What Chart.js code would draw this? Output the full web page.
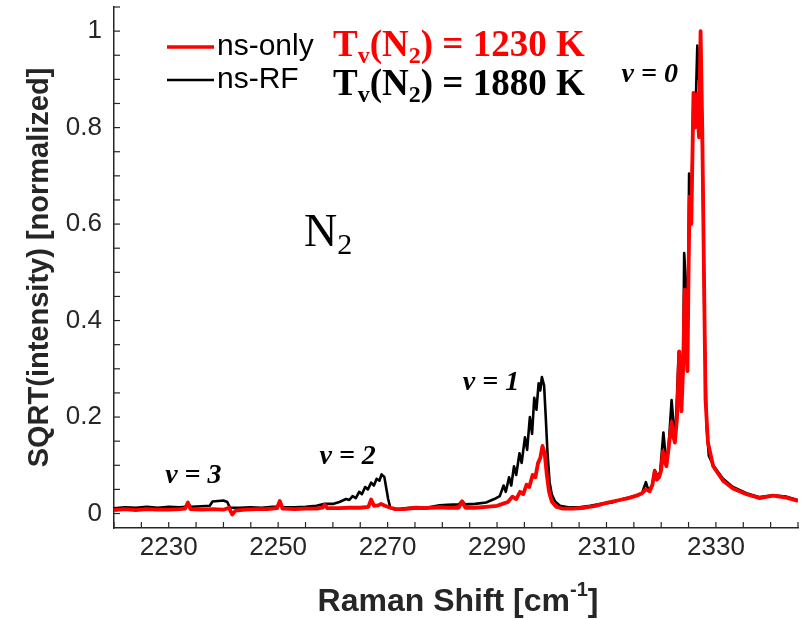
<!DOCTYPE html>
<html><head><meta charset="utf-8">
<script src="https://cdn.jsdelivr.net/npm/chart.js@4.4.1/dist/chart.umd.min.js"></script>
<style>html,body{margin:0;padding:0;background:#fff;}</style>
</head><body>
<canvas id="c" width="802" height="619"></canvas>
<script>
// ---- data ----
const xTickLabels = [2230, 2250, 2270, 2290, 2310, 2330];
const yTickLabels = [0, 0.2, 0.4, 0.6, 0.8, 1];
const yTickStep = 0.05;

const redX = [
 2220,2222,2224,2226,2228,2230,2232,2233,2233.5,2234,
 2236,2238,2240,2241,2241.6,2242.2,2244,2246,2248,2249.8,
 2250.3,2250.8,2253,2255,2257,2258.1,2258.5,2259,2261,2263,
 2265,2266.5,2267,2267.5,2268.3,2268.8,2269.5,2270.5,2271.5,2273,
 2275.2,2277,2279.5,2281,2283,2283.6,2284.2,2286,2288,2290,
 2291,2292,2292.8,2293.5,2294.2,2294.8,2295.4,2295.9,2296.5,2297,
 2297.5,2297.9,2298.3,2298.7,2299.1,2299.5,2300,2300.8,2302,2304,
 2306,2308,2310,2312,2314,2315.5,2316.5,2317.2,2317.9,2318.4,
 2318.8,2319.2,2319.6,2320,2320.3,2320.6,2320.95,2321.4,2321.9,2322.2,
 2322.5,2322.9,2323.3,2323.5,2323.7,2324,2324.3,2324.6,2324.8,2325,
 2325.2,2325.5,2325.9,2326.1,2326.4,2326.6,2326.9,2327.2,2327.5,2327.8,
 2328.1,2328.55,2329.5,2331.3,2333.1,2335.6,2338,2340.4,2342.9,2345
];
const redY = [
 .007,.009,.007,.009,.008,.008,.009,.010,.023,.009,
 .008,.009,.008,.012,-.002,.006,.008,.009,.009,.011,
 .026,.010,.009,.010,.010,.012,.018,.011,.011,.012,
 .012,.014,.029,.016,.017,.020,.016,.012,.009,.009,
 .012,.011,.013,.012,.012,.025,.012,.012,.014,.016,
 .020,.024,.035,.030,.045,.040,.060,.055,.080,.075,
 .105,.115,.140,.125,.080,.045,.025,.014,.010,.010,
 .012,.016,.022,.027,.032,.037,.042,.050,.046,.060,
 .088,.070,.075,.090,.129,.110,.098,.140,.190,.160,
 .147,.200,.336,.300,.212,.300,.464,.330,.295,.500,
 .657,.600,.872,.800,.802,.870,.780,1.0,.800,.512,
 .236,.147,.098,.068,.052,.040,.032,.037,.033,.026
];

const blackX = [
 2220,2222,2224,2226,2228,2230,2232,2233,2233.5,2234,
 2236,2237.5,2238,2239,2240,2240.7,2241.2,2243,2245,2247,
 2249,2249.8,2250.3,2250.8,2253,2255,2257,2258.5,2260,2261.2,
 2262.4,2263,2263.6,2264.2,2264.8,2265.3,2265.9,2266.4,2267,2267.5,
 2268,2268.5,2268.9,2269.4,2269.8,2270.1,2270.5,2271.5,2273,2275.2,
 2277,2279.5,2281,2283,2283.6,2284.2,2286,2288,2289.5,2290.5,
 2291.2,2291.6,2292.2,2292.6,2293.1,2293.5,2294.1,2294.5,2295.1,2295.5,
 2296,2296.4,2296.8,2297.2,2297.6,2297.9,2298.2,2298.6,2298.9,2299.2,
 2299.6,2300,2300.6,2301.5,2303,2305,2307,2309,2311,2313,
 2315,2316.5,2317.2,2317.6,2318.3,2318.8,2319.3,2319.8,2320.4,2320.8,
 2321.3,2321.9,2322.3,2322.6,2323.2,2323.6,2324,2324.2,2324.6,2324.9,
 2325.1,2325.5,2325.9,2326.2,2326.6,2326.9,2327.2,2327.6,2327.9,2328.3,
 2328.7,2329.5,2331.3,2333.1,2335.6,2338,2340.4,2342.9,2345
];
const blackY = [
 .011,.013,.012,.014,.012,.014,.013,.014,.022,.014,
 .015,.016,.025,.026,.027,.024,.012,.012,.013,.012,
 .014,.014,.025,.013,.013,.014,.016,.020,.020,.024,
 .030,.028,.036,.032,.045,.040,.055,.050,.064,.058,
 .072,.068,.081,.076,.050,.030,.012,.008,.011,.013,
 .012,.017,.018,.019,.026,.019,.020,.023,.030,.036,
 .058,.045,.075,.058,.098,.080,.125,.105,.158,.132,
 .200,.165,.240,.215,.270,.255,.283,.265,.200,.130,
 .065,.040,.025,.016,.013,.013,.016,.020,.023,.030,
 .036,.042,.065,.050,.055,.090,.078,.085,.168,.120,
 .130,.235,.180,.160,.335,.220,.300,.540,.460,.440,
 .705,.620,.870,.800,.970,.900,.950,.700,.400,.180,
 .120,.100,.072,.055,.042,.034,.038,.035,.028
];

const seriesNames = ['ns-only', 'ns-RF'];
const tvTexts = ['1230 K', '1880 K'];
const bandLabels = [
  {text:'v = 0', x:2317.9, y:0.909},
  {text:'v = 1', x:2288.9, y:0.271},
  {text:'v = 2', x:2262.7, y:0.118},
  {text:'v = 3', x:2234.5, y:0.079}
];

const AX = '#262626';
const SANS = '"Liberation Sans", Arial, Helvetica, sans-serif';
const SERIF = '"Liberation Serif", "Times New Roman", serif';

const overlay = {
  id:'overlay',
  afterDraw(chart){
    const c = chart.ctx, ca = chart.chartArea;
    const xs = chart.scales.x, ys = chart.scales.y;
    c.save();
    // inside tick marks
    c.strokeStyle = AX; c.lineWidth = 1.2;
    xs.ticks.forEach(t=>{const p = xs.getPixelForValue(t.value); c.beginPath(); c.moveTo(p, ca.bottom); c.lineTo(p, ca.bottom-6); c.stroke();});
    ys.ticks.forEach(t=>{const p = ys.getPixelForValue(t.value); c.beginPath(); c.moveTo(ca.left, p); c.lineTo(ca.left+6, p); c.stroke();});

    // x title with superscript
    c.fillStyle = AX; c.textBaseline = 'alphabetic'; c.textAlign = 'left';
    const t1 = 'Raman Shift [cm', t2 = '-1', t3 = ']';
    c.font = 'bold 32px ' + SANS; const w1 = c.measureText(t1).width, w3 = c.measureText(t3).width;
    c.font = 'bold 20px ' + SANS; const w2 = c.measureText(t2).width;
    let x0 = 458 - (w1+w2+w3)/2, by = 611;
    c.font = 'bold 32px ' + SANS; c.fillText(t1, x0, by);
    c.font = 'bold 20px ' + SANS; c.fillText(t2, x0+w1, by-15);
    c.font = 'bold 32px ' + SANS; c.fillText(t3, x0+w1+w2, by);

    // legend
    const rows = [{col:'#ff0000', y:47, lw:3.5}, {col:'#000000', y:80, lw:2.5}];
    rows.forEach((r,i)=>{
      c.strokeStyle = r.col; c.lineWidth = r.lw;
      c.beginPath(); c.moveTo(167, r.y); c.lineTo(214, r.y); c.stroke();
      c.fillStyle = '#000'; c.font = '30px ' + SANS; c.textBaseline = 'middle';
      c.fillText(seriesNames[i], 217, r.y);
    });
    // Tv(N2) texts
    const drawTv = (x, base, col, val) => {
      c.fillStyle = col; c.textBaseline = 'alphabetic'; c.textAlign = 'left';
      const big = 'bold 37px ' + SERIF, sm = 'bold 24px ' + SERIF;
      const parts = [['T',big,0],['v',sm,7],['(N',big,0],['2',sm,7],[') = ' + val,big,0]];
      let xx = x;
      parts.forEach(p=>{c.font = p[1]; c.fillText(p[0], xx, base + p[2]); xx += c.measureText(p[0]).width;});
    };
    drawTv(333, 56, '#ff0000', tvTexts[0]);
    drawTv(333, 95, '#000000', tvTexts[1]);

    // N2 label
    c.fillStyle = '#000'; c.font = '46px ' + SERIF; c.textBaseline = 'alphabetic';
    c.fillText('N', 304, 246); const wn = c.measureText('N').width;
    c.font = '30px ' + SERIF; c.fillText('2', 304+wn, 254);

    // band labels
    c.font = 'bold italic 28px ' + SERIF; c.textAlign = 'center'; c.textBaseline = 'middle';
    bandLabels.forEach(b=>{ c.fillText(b.text, xs.getPixelForValue(b.x), ys.getPixelForValue(b.y)); });
    c.restore();
  }
};

const mk = (xa, ya) => xa.map((x,i)=>({x:x, y:ya[i]}));
const zeroPad = s => { s.paddingTop = 0; s.paddingBottom = 0; s.paddingLeft = 0; s.paddingRight = 0; };

new Chart(document.getElementById('c'), {
  type:'line',
  data:{datasets:[
    {label:seriesNames[0], data:mk(redX, redY), borderColor:'#ff0000', borderWidth:3.8, pointRadius:0, tension:0, fill:false, borderJoinStyle:'round'},
    {label:seriesNames[1], data:mk(blackX, blackY), borderColor:'#000000', borderWidth:2.6, pointRadius:0, tension:0, fill:false, borderJoinStyle:'round'}
  ]},
  options:{
    responsive:false, animation:false, devicePixelRatio:1,
    layout:{padding:{left:0, right:4, top:7, bottom:0}},
    plugins:{legend:{display:false}, tooltip:{enabled:false}},
    scales:{
      x:{type:'linear', min:2220, max:2345, bounds:'data',
         afterFit(s){ s.height = 91; zeroPad(s); },
         border:{display:true, color:AX, width:1.5},
         grid:{display:true, drawOnChartArea:false, drawTicks:false},
         ticks:{stepSize:5, maxTicksLimit:1000, autoSkip:false, maxRotation:0, minRotation:0, padding:4, color:AX,
                font:{family:SANS, size:26},
                callback:(v)=> xTickLabels.includes(Math.round(v)) ? String(Math.round(v)) : ''}
      },
      y:{type:'linear', min:-0.03, max:1.05, bounds:'data',
         afterBuildTicks(s){
           const t = [];
           for (let k = 0; k * yTickStep <= s.max + 1e-9; k++) t.push({value: Math.round(k * yTickStep * 100) / 100});
           s.ticks = t;
         },
         afterFit(s){ s.width = 114; zeroPad(s); },
         border:{display:true, color:AX, width:1.5},
         grid:{display:true, drawOnChartArea:false, drawTicks:false},
         ticks:{autoSkip:false, padding:12, color:AX,
                font:{family:SANS, size:26},
                callback:(v)=>{ const r = Math.round(v*100)/100; return yTickLabels.some(t=>Math.abs(t-r)<1e-6) ? String(r) : ''; }},
         title:{display:true, text:'SQRT(intensity) [normalized]', color:AX,
                font:{family:SANS, size:29, weight:'bold'}, padding:{top:23, bottom:0}}
      }
    }
  },
  plugins:[overlay]
});
</script>
</body></html>
